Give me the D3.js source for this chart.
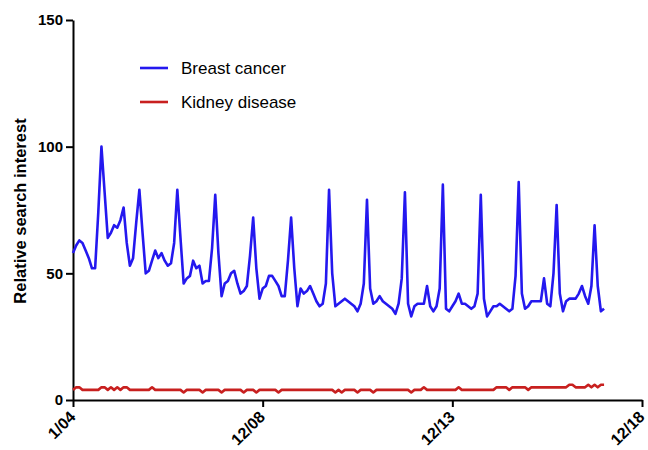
<!DOCTYPE html>
<html>
<head>
<meta charset="utf-8">
<script src="https://cdn.jsdelivr.net/npm/d3@7"></script>
<style>
  body { margin: 0; background: #fff; }
  svg { font-family: Arial, "Liberation Sans", sans-serif; }
  .axis path, .axis line { stroke: #000; stroke-width: 2; }
  .axis text { font-weight: bold; fill: #000; }
</style>
</head>
<body>
<svg id="plot" width="648" height="450"></svg>
<script>
// monthly relative search interest, Jan 2004 onwards
const breastCancer = [
  58, 61, 63, 62, 59, 56, 52, 52, 74, 100, 82, 64,
  66, 69, 68, 71, 76, 62, 53, 56, 70, 83, 66, 50,
  51, 55, 59, 56, 58, 55, 53, 54, 62, 83, 64, 46,
  48, 49, 55, 52, 53, 46, 47, 47, 60, 81, 58, 41,
  46, 47, 50, 51, 46, 42, 43, 45, 57, 72, 52, 40,
  44, 45, 49, 49, 47, 45, 41, 41, 55, 72, 52, 37,
  44, 42, 43, 45, 42, 39, 37, 38, 46, 83, 50, 37,
  38, 39, 40, 39, 38, 37, 35, 38, 46, 79, 44, 38,
  39, 41, 39, 38, 37, 36, 34, 38, 48, 82, 38, 33,
  37, 38, 38, 38, 45, 37, 35, 37, 44, 85, 36, 35,
  37, 39, 42, 38, 38, 37, 36, 37, 42, 81, 40, 33,
  35, 37, 37, 38, 37, 36, 35, 36, 49, 86, 42, 36,
  37, 39, 39, 39, 39, 48, 38, 37, 50, 77, 42, 35,
  39, 40, 40, 40, 42, 45, 41, 38, 45, 69, 45, 35, 36
]
const kidneyDisease = [
  4, 5, 5, 4, 4, 4, 4, 4, 4, 5, 5, 4,
  5, 4, 5, 4, 5, 5, 4, 4, 4, 4, 4, 4,
  4, 5, 4, 4, 4, 4, 4, 4, 4, 4, 4, 3,
  4, 4, 4, 4, 4, 3, 4, 4, 4, 4, 4, 3,
  4, 4, 4, 4, 4, 4, 3, 4, 4, 4, 3, 4,
  4, 4, 4, 4, 4, 3, 4, 4, 4, 4, 4, 4,
  4, 4, 4, 4, 4, 4, 4, 4, 4, 4, 4, 3,
  4, 3, 4, 4, 4, 4, 3, 4, 4, 4, 4, 3,
  4, 4, 4, 4, 4, 4, 4, 4, 4, 4, 4, 3,
  4, 4, 4, 5, 4, 4, 4, 4, 4, 4, 4, 4,
  4, 4, 5, 4, 4, 4, 4, 4, 4, 4, 4, 4,
  4, 4, 5, 5, 5, 5, 4, 5, 5, 5, 5, 5,
  4, 5, 5, 5, 5, 5, 5, 5, 5, 5, 5, 5,
  5, 6, 6, 5, 5, 5, 5, 6, 5, 6, 5, 6, 6
]
const xTickValues = [0, 60, 120, 180]
const xTickLabels = ['1/04', '12/08', '12/13', '12/18']
const yTickValues = [0, 50, 100, 150]
const seriesNames = ['Breast cancer', 'Kidney disease']
const seriesColors = ['#2418ef', '#c8201f']

const svg = d3.select('#plot')
    , plotLeft = 73
    , plotRight = 642
    , plotTop = 20
    , plotBottom = 400
    , scaleX = d3.scaleLinear().domain([0, 180]).range([plotLeft, plotRight])
    , scaleY = d3.scaleLinear().domain([0, 150]).range([plotBottom, plotTop])

const line = d3.line()
    .x((d, i) => scaleX(i))
    .y(d => scaleY(d))

// axes
const yAxis = svg.append('g')
    .attr('class', 'axis y-axis')
    .attr('transform', `translate(${plotLeft},0)`)
    .call(d3.axisLeft(scaleY).tickValues(yTickValues).tickSize(7).tickSizeOuter(0).tickPadding(3))
yAxis.selectAll('text').style('font-size', '15px')

const xAxis = svg.append('g')
    .attr('class', 'axis x-axis')
    .attr('transform', `translate(0,${plotBottom})`)
    .call(d3.axisBottom(scaleX)
        .tickValues(xTickValues)
        .tickFormat((d, i) => xTickLabels[i])
        .tickSize(7)
        .tickSizeOuter(0))
xAxis.selectAll('text')
    .style('font-size', '16px')
    .attr('text-anchor', 'end')
    .attr('dy', null)
    .attr('y', 0)
    .attr('transform', 'translate(3,18) rotate(-45)')

svg.append('text')
    .attr('transform', `translate(26,${(plotTop + plotBottom) / 2 + 1}) rotate(-90)`)
    .attr('text-anchor', 'middle')
    .style('font-size', '16.5px')
    .style('font-weight', 'bold')
    .text('Relative search interest')

// series
;[breastCancer, kidneyDisease].forEach((values, k) => {
    svg.append('path')
        .datum(values)
        .attr('fill', 'none')
        .attr('stroke', seriesColors[k])
        .attr('stroke-width', 2.6)
        .attr('stroke-linejoin', 'round')
        .attr('d', line)
})

// legend
const legend = svg.append('g').attr('transform', 'translate(140,68)')
seriesNames.forEach((name, k) => {
    const row = legend.append('g').attr('transform', `translate(0,${k * 34})`)
    row.append('line')
        .attr('x1', 0).attr('x2', 28)
        .attr('stroke', seriesColors[k])
        .attr('stroke-width', 2.6)
    row.append('text')
        .attr('x', 41)
        .attr('y', 6)
        .style('font-size', '17px')
        .text(name)
})
</script>
</body>
</html>
